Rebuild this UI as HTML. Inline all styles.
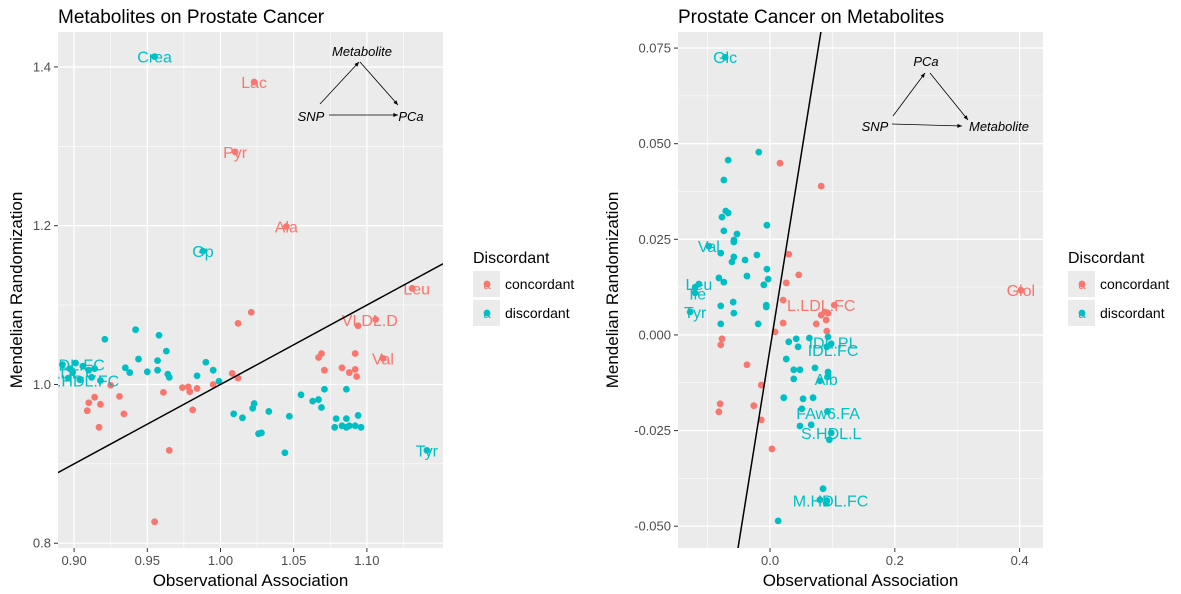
<!DOCTYPE html>
<html><head><meta charset="utf-8"><style>
html,body{margin:0;padding:0;background:#fff;width:1181px;height:594px;overflow:hidden;}
svg{display:block;font-family:"Liberation Sans",sans-serif;}
</style></head><body>
<svg id="chart" width="1181" height="594" xmlns="http://www.w3.org/2000/svg"></svg>
<script>
// ---- Left panel data: Metabolites on Prostate Cancer ----
const leftRedX=[1.021,1.012,1.094,1.106,1.069,1.067,1.071,1.092,1.083,1.088,1.092,1.093,1.008,1.012,0.995,0.984,0.978,0.974,0.979,0.961,0.981,0.965,0.931,0.934,0.917,0.909,0.918,0.910,0.914,0.925,0.955,1.023,1.010,1.045,1.131,1.111];
const leftRedY=[1.091,1.077,1.074,1.082,1.039,1.034,1.018,1.039,1.021,1.015,1.019,1.010,1.014,1.008,1.000,0.995,0.997,0.996,0.991,0.990,0.968,0.917,0.985,0.963,0.946,0.967,0.975,0.977,0.984,0.999,0.827,1.381,1.293,1.199,1.121,1.033];
const leftTealX=[0.921,0.942,0.958,0.963,0.944,0.957,0.935,0.938,0.950,0.957,0.964,0.965,0.990,0.995,0.984,0.999,1.009,1.015,1.022,1.023,1.026,1.028,1.033,1.047,1.044,1.055,1.063,1.067,1.069,1.071,1.086,1.079,1.078,1.086,1.094,1.083,1.088,1.092,1.096,1.086,0.892,0.897,0.901,0.906,0.910,0.914,0.896,0.904,0.912,0.918,0.899,0.955,0.988,1.141];
const leftTealY=[1.057,1.069,1.062,1.042,1.032,1.030,1.021,1.015,1.016,1.018,1.013,1.009,1.028,1.018,1.011,1.004,0.963,0.958,0.970,0.976,0.938,0.939,0.966,0.960,0.914,0.987,0.979,0.981,0.971,0.994,0.994,0.957,0.946,0.957,0.961,0.948,0.948,0.948,0.946,0.946,1.025,1.020,1.027,1.023,1.018,1.020,1.008,1.006,1.009,1.005,1.015,1.413,1.168,0.917];
const leftLabels=["Lac","Pyr","Ala","Leu","VLDL.D","Val","Crea","Gp","Tyr","XL.HDL.FC","LDL.C","M.HDL.FC"];
const leftLabelX=[1.023,1.010,1.045,1.134,1.102,1.111,0.955,0.988,1.141,0.893,0.900,0.905];
const leftLabelY=[1.381,1.293,1.199,1.121,1.081,1.033,1.413,1.168,0.917,1.025,1.015,1.005];
const leftLabelCls=["c","c","c","c","c","c","d","d","d","d","d","d"];
const leftXTicks=[0.90,0.95,1.00,1.05,1.10];
const leftXTickLabels=["0.90","0.95","1.00","1.05","1.10"];
const leftYTicks=[0.8,1.0,1.2,1.4];
const leftYTickLabels=["0.8","1.0","1.2","1.4"];
const leftLine=[0.0,1.0]; // intercept, slope

// ---- Right panel data: Prostate Cancer on Metabolites ----
const rightRedX=[0.016,0.082,0.030,0.046,0.026,0.021,0.021,0.008,0.074,0.082,0.088,0.093,0.090,0.091,0.103,-0.077,-0.079,-0.037,-0.014,-0.080,-0.082,-0.026,-0.014,0.003,0.402];
const rightRedY=[0.0449,0.0389,0.0211,0.0157,0.0136,0.0091,0.0031,0.0008,0.0029,0.0052,0.0060,0.0057,0.0039,0.0010,0.0078,-0.0010,-0.0026,-0.0078,-0.0131,-0.0180,-0.0201,-0.0185,-0.0222,-0.0298,0.0117];
const rightTealX=[-0.018,-0.067,-0.074,-0.071,-0.067,-0.077,-0.005,-0.053,-0.074,-0.058,-0.058,-0.079,-0.058,-0.061,-0.040,-0.021,-0.005,-0.003,-0.010,-0.037,-0.082,-0.074,-0.059,-0.058,-0.079,-0.079,-0.019,-0.006,-0.006,-0.114,-0.098,-0.120,-0.120,-0.128,0.030,0.042,0.045,0.063,0.026,0.038,0.048,0.038,0.072,0.080,0.093,0.022,0.053,0.069,0.051,0.048,0.066,0.098,0.095,0.093,0.098,0.091,0.085,0.080,0.091,0.013,-0.072,0.092,0.092,0.090];
const rightTealY=[0.0478,0.0457,0.0405,0.0324,0.0319,0.0308,0.0287,0.0264,0.0272,0.0248,0.0243,0.0214,0.0204,0.0191,0.0196,0.0209,0.0172,0.0146,0.0131,0.0154,0.0149,0.0138,0.0086,0.0057,0.0076,0.0029,0.0029,0.0078,0.0073,0.0133,0.0232,0.0125,0.0110,0.0060,-0.0018,-0.0010,-0.0031,-0.0008,-0.0063,-0.0091,-0.0091,-0.0115,-0.0086,-0.0120,-0.0097,-0.0164,-0.0167,-0.0164,-0.0193,-0.0238,-0.0235,-0.0256,-0.0274,-0.0005,-0.0023,-0.0031,-0.0402,-0.0431,-0.0433,-0.0486,0.0726,-0.0110,-0.0200,-0.0440];
const rightLabels=["Glol","L.LDL.FC","Glc","Val","Leu","Ile","Tyr","IDL.PL","IDL.FC","Alb","FAw6.FA","S.HDL.L","M.HDL.FC"];
const rightLabelX=[0.402,0.082,-0.072,-0.098,-0.114,-0.116,-0.120,0.101,0.101,0.090,0.093,0.098,0.097];
const rightLabelY=[0.0117,0.0078,0.0726,0.0232,0.0133,0.0108,0.0060,-0.0020,-0.0040,-0.0115,-0.0204,-0.0256,-0.0433];
const rightLabelCls=["c","c","d","d","d","d","d","d","d","d","d","d","d"];
const rightXTicks=[0.0,0.2,0.4];
const rightXTickLabels=["0.0","0.2","0.4"];
const rightYTicks=[-0.050,-0.025,0.000,0.025,0.050,0.075];
const rightYTickLabels=["-0.050","-0.025","0.000","0.025","0.050","0.075"];
const rightLine=[-0.0036,1.016];

const NS="http://www.w3.org/2000/svg";
const svg=document.getElementById('chart');
const RED="#F8766D", TEAL="#00BFC4";
function mk(tag,attrs,parent){const e=document.createElementNS(NS,tag);for(const k in attrs)e.setAttribute(k,attrs[k]);(parent||svg).appendChild(e);return e;}
function txt(s,attrs,parent){const e=mk('text',attrs,parent);e.textContent=s;return e;}

function panel(o){
  const {L,R,T,B,x0,x1,y0,y1}=o;
  const sx=v=>L+(v-x0)/(x1-x0)*(R-L);
  const sy=v=>B-(v-y0)/(y1-y0)*(B-T);
  const g=mk('g',{});
  
  
  const bg=mk('rect',{x:L,y:T,width:R-L,height:B-T,fill:'#EBEBEB'},g);
  
  
  const cid='clip'+o.name;
  const cp=mk('clipPath',{id:cid},g);mk('rect',{x:L,y:T,width:R-L,height:B-T},cp);
  for(let i=0;i<o.xt.length+1;i++){
    const step=o.xt[1]-o.xt[0];const v=o.xt[0]-step/2+i*step;
    if(v>x0&&v<x1){mk('line',{x1:sx(v),x2:sx(v),y1:T,y2:B,stroke:'#fff','stroke-width':0.6},g);}
  }
  for(let i=0;i<o.yt.length+1;i++){
    const step=o.yt[1]-o.yt[0];const v=o.yt[0]-step/2+i*step;
    if(v>y0&&v<y1){mk('line',{x1:L,x2:R,y1:sy(v),y2:sy(v),stroke:'#fff','stroke-width':0.6},g);}
  }
  o.xt.forEach((v,i)=>{
    const gl=mk('line',{x1:sx(v),x2:sx(v),y1:T,y2:B,stroke:'#fff','stroke-width':1.3},g);
    
    
    mk('line',{x1:sx(v),x2:sx(v),y1:B,y2:B+4,stroke:'#333','stroke-width':1},g);
    const t=txt(o.xtl[i],{x:sx(v),y:B+17,'font-size':13,fill:'#4D4D4D','text-anchor':'middle'},g);
    
    
  });
  o.yt.forEach((v,i)=>{
    mk('line',{x1:L,x2:R,y1:sy(v),y2:sy(v),stroke:'#fff','stroke-width':1.3},g);
    mk('line',{x1:L-4,x2:L,y1:sy(v),y2:sy(v),stroke:'#333','stroke-width':1},g);
    const t=txt(o.ytl[i],{x:L-7,y:sy(v)+4.5,'font-size':13,fill:'#4D4D4D','text-anchor':'end'},g);
    
    
  });
  const c=mk('g',{'clip-path':'url(#'+cid+')'},g);
  o.inset(c);
  const pts=(xs,ys,col,nm)=>xs.forEach((x,i)=>{
    const p=mk('circle',{cx:sx(x),cy:sy(ys[i]),r:3.4,fill:col},c);
    
    
  });
  pts(o.tx,o.ty,TEAL,'point-discordant');
  pts(o.rx,o.ry,RED,'point-concordant');
  o.lab.forEach((s,i)=>{
    const t=txt(s,{x:sx(o.lx[i]),y:sy(o.ly[i])+6,'font-size':16,fill:o.lc[i]=='c'?RED:TEAL,'text-anchor':'middle'},c);
    
    
  });
  const ln=mk('line',{x1:sx(x0),y1:sy(o.line[0]+o.line[1]*x0),x2:sx(x1),y2:sy(o.line[0]+o.line[1]*x1),stroke:'#000','stroke-width':1.5},c);
  
  
  const tt=txt(o.title,{x:L,y:23,'font-size':19,fill:'#000'},g);
  
  
  const xa=txt('Observational Association',{x:(L+R)/2,y:586,'font-size':17,fill:'#000','text-anchor':'middle'},g);
  
  
  const ya=txt('Mendelian Randomization',{x:0,y:0,'font-size':17,fill:'#000','text-anchor':'middle',transform:`translate(${o.yax},${(T+B)/2}) rotate(-90)`},g);
  
  
  const lg=mk('g',{},g);
  
  
  txt('Discordant',{x:o.lgx,y:263,'font-size':16,fill:'#000'},lg);
  [['concordant',RED,271],['discordant',TEAL,300]].forEach(([s,col,y])=>{
    const k=mk('g',{},lg);
    
    
    mk('rect',{x:o.lgx,y:y,width:27,height:26,fill:'#EBEBEB'},k);
    mk('circle',{cx:o.lgx+14,cy:y+13,r:3.4,fill:col},k);
    txt('a',{x:o.lgx+14,y:y+18,'font-size':13,fill:col,'text-anchor':'middle'},k);
    txt(s,{x:o.lgx+32,y:y+18,'font-size':14,fill:'#000'},k);
  });
}
function arrow(p,x1,y1,x2,y2){
  mk('line',{x1,y1,x2,y2,stroke:'#000','stroke-width':0.8},p);
  const a=Math.atan2(y2-y1,x2-x1),s=5;
  mk('polygon',{points:`${x2},${y2} ${x2-s*Math.cos(a-0.4)},${y2-s*Math.sin(a-0.4)} ${x2-s*Math.cos(a+0.4)},${y2-s*Math.sin(a+0.4)}`,fill:'#000'},p);
}
panel({name:'left-panel',L:58,R:443,T:32,B:548,x0:0.889,x1:1.152,y0:0.794,y1:1.444,
  xt:leftXTicks,xtl:leftXTickLabels,yt:leftYTicks,ytl:leftYTickLabels,
  rx:leftRedX,ry:leftRedY,tx:leftTealX,ty:leftTealY,lab:leftLabels,lx:leftLabelX,ly:leftLabelY,lc:leftLabelCls,
  line:leftLine,title:'Metabolites on Prostate Cancer',yax:22,lgx:473,
  inset:p=>{
    const d=mk('g',{},p);
    txt('Metabolite',{x:362,y:56,'font-size':13,'font-style':'italic','text-anchor':'middle'},d);
    txt('SNP',{x:311,y:121,'font-size':13,'font-style':'italic','text-anchor':'middle'},d);
    txt('PCa',{x:411,y:121,'font-size':13,'font-style':'italic','text-anchor':'middle'},d);
    arrow(d,320,104,359,62);arrow(d,360,62,398,105);arrow(d,329,115,398,115);
  }});
panel({name:'right-panel',L:678,R:1043,T:32,B:548,x0:-0.1475,x1:0.4375,y0:-0.0557,y1:0.0792,
  xt:rightXTicks,xtl:rightXTickLabels,yt:rightYTicks,ytl:rightYTickLabels,
  rx:rightRedX,ry:rightRedY,tx:rightTealX,ty:rightTealY,lab:rightLabels,lx:rightLabelX,ly:rightLabelY,lc:rightLabelCls,
  line:rightLine,title:'Prostate Cancer on Metabolites',yax:618,lgx:1068,
  inset:p=>{
    const d=mk('g',{},p);
    txt('PCa',{x:926,y:66,'font-size':13,'font-style':'italic','text-anchor':'middle'},d);
    txt('SNP',{x:875,y:131,'font-size':13,'font-style':'italic','text-anchor':'middle'},d);
    txt('Metabolite',{x:999,y:131,'font-size':13,'font-style':'italic','text-anchor':'middle'},d);
    arrow(d,893,116,925,73);arrow(d,930,73,968,120);arrow(d,892,124,962,126);
  }});
</script>
</body></html>
